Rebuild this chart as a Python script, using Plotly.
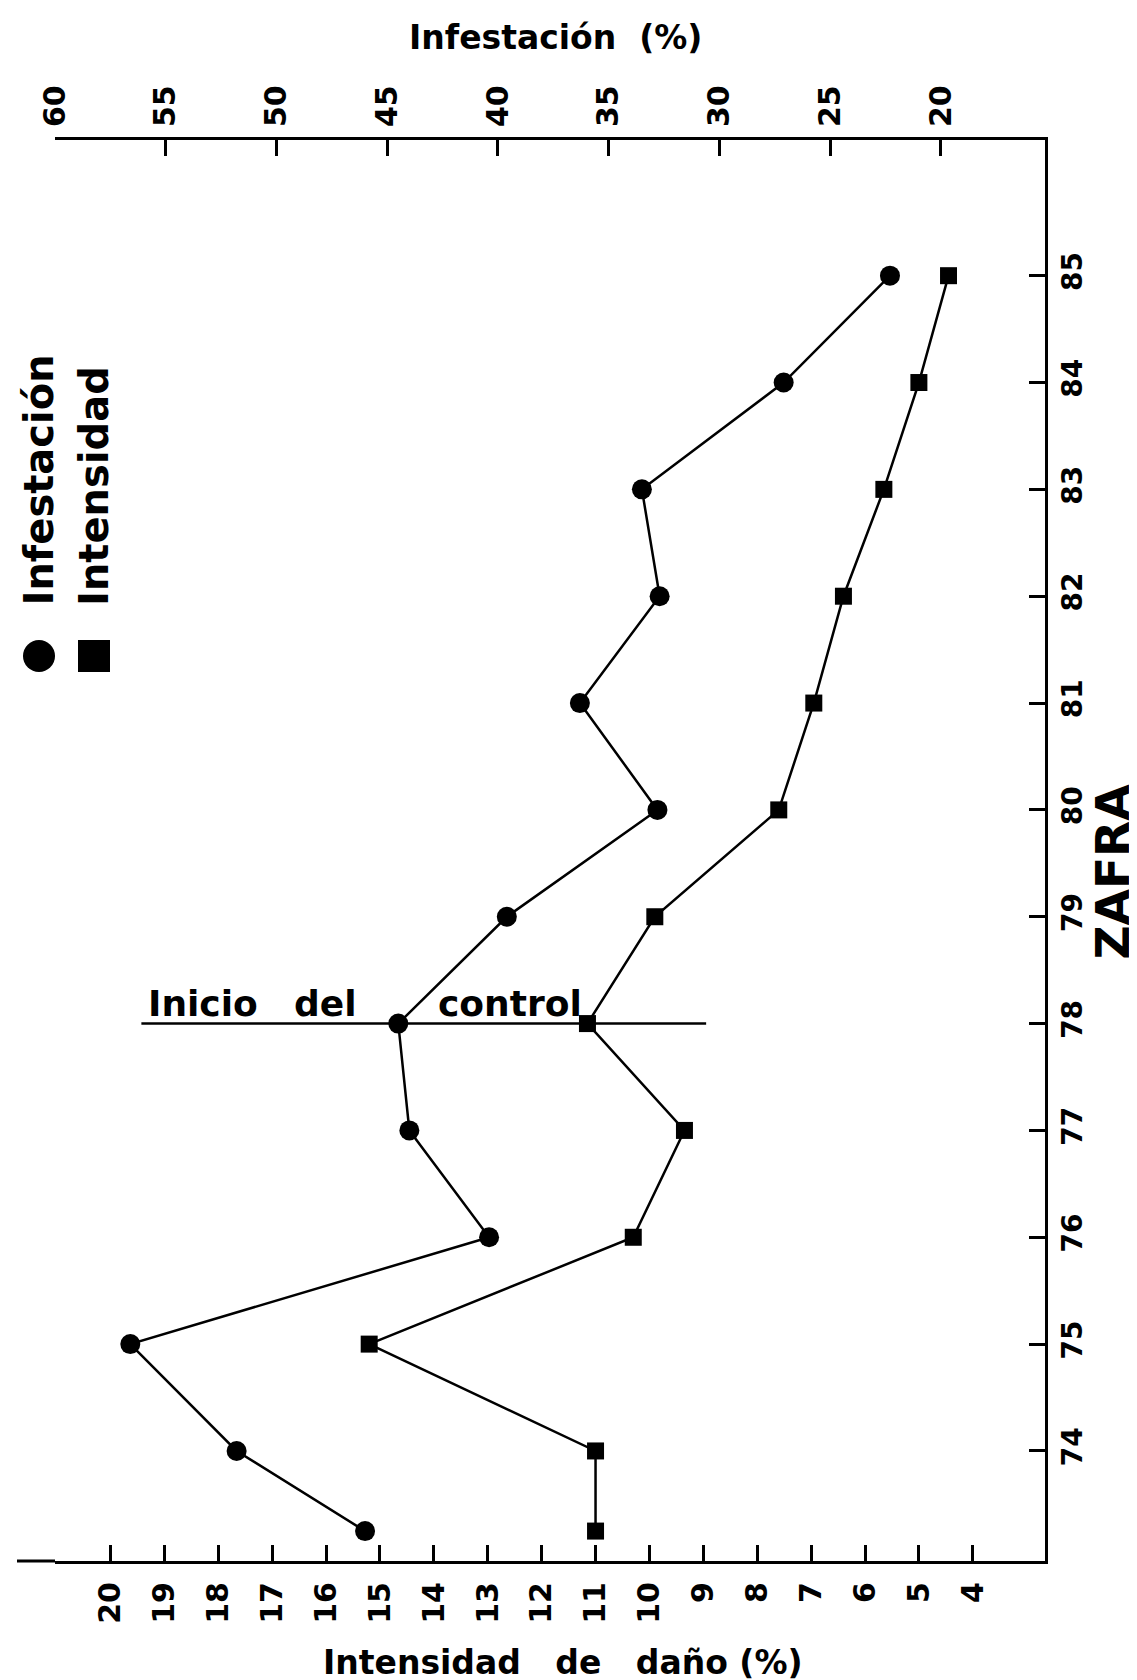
import plotly.graph_objects as go

# ---- data ----
zafra = [73.25, 74, 75, 76, 77, 78, 79, 80, 81, 82, 83, 84, 85]
infestacion = [46.0, 51.8, 56.6, 40.4, 44.0, 44.5, 39.6, 32.8, 36.3, 32.7, 33.5, 27.1, 22.3]
intensidad = [11.0, 11.0, 15.2, 10.3, 9.35, 11.15, 9.9, 7.6, 6.95, 6.4, 5.65, 5.0, 4.45]

year_ticks = list(range(74, 86))
infest_ticks = [60, 55, 50, 45, 40, 35, 30, 25, 20]
intens_ticks = list(range(20, 3, -1))

control_year = 78
control_span = [56.1, 30.6]          # in Infestación units
control_words = ["Inicio", "del", "control"]
control_word_x = [55.9, 49.3, 42.8]  # in Infestación units

FONT = "DejaVu Sans, Liberation Sans, sans-serif"
BLACK = "#000000"

fig = go.Figure()

fig.add_trace(go.Scatter(
    x=infestacion, y=zafra, xaxis="x2", yaxis="y",
    mode="lines+markers", name="Infestación",
    line=dict(color=BLACK, width=2.5),
    marker=dict(symbol="circle", size=20, color=BLACK),
    showlegend=False,
))
fig.add_trace(go.Scatter(
    x=intensidad, y=zafra, xaxis="x", yaxis="y",
    mode="lines+markers", name="Intensidad",
    line=dict(color=BLACK, width=2.5),
    marker=dict(symbol="square", size=17, color=BLACK),
    showlegend=False,
))

axis_common = dict(
    showgrid=False, zeroline=False, showline=True, linewidth=3, linecolor=BLACK,
    ticks="inside", ticklen=16, tickwidth=2.5, tickcolor=BLACK,
    tickangle=-90, tickfont=dict(family=FONT, size=30, color=BLACK, weight="bold"),
    automargin=False,
)

L, R, T, B = 47, 100, 132, 127
W, H = 1137, 1680
pw, ph = W - L - R, H - T - B


def px(xp):
    return (xp - L) / pw


def py(yp):
    return (H - B - yp) / ph


y_axis = dict(axis_common)
y_axis["tickfont"] = dict(family=FONT, size=28, color=BLACK, weight="bold")

fig.update_layout(
    width=W, height=H,
    margin=dict(l=L, r=R, t=T, b=B, pad=0),
    paper_bgcolor="white", plot_bgcolor="white",
    xaxis=dict(range=[21.03, 2.66], tickvals=intens_ticks,
               ticktext=[str(v) for v in intens_ticks],
               anchor="y", side="bottom", ticklabelstandoff=6, **axis_common),
    xaxis2=dict(range=[60.0, 15.3], tickvals=infest_ticks,
                ticktext=[str(v) for v in infest_ticks],
                overlaying="x", anchor="y", side="top", ticklabelstandoff=4, **axis_common),
    yaxis=dict(range=[72.97, 86.27], tickvals=year_ticks,
               ticktext=[str(v) for v in year_ticks],
               side="right", anchor="x", ticklabelstandoff=0, **y_axis),
)

shapes = [
    # "Inicio del control" line
    dict(type="line", xref="x2", yref="y", x0=control_span[0], x1=control_span[1],
         y0=control_year, y1=control_year, line=dict(color=BLACK, width=2.5)),
    # extension of bottom axis line to the left
    dict(type="line", xref="paper", yref="paper", x0=px(9), x1=0, y0=0, y1=0,
         line=dict(color=BLACK, width=3)),
    # legend symbols
    dict(type="circle", xref="paper", yref="paper", xsizemode="pixel", ysizemode="pixel",
         xanchor=px(31), yanchor=py(648), x0=-16, x1=16, y0=-16, y1=16,
         fillcolor=BLACK, line=dict(width=0)),
    dict(type="rect", xref="paper", yref="paper", xsizemode="pixel", ysizemode="pixel",
         xanchor=px(86), yanchor=py(648), x0=-16, x1=16, y0=-16, y1=16,
         fillcolor=BLACK, line=dict(width=0)),
]
fig.update_layout(shapes=shapes)

annotations = [
    dict(text="Infestación&nbsp; (%)", xref="paper", yref="paper", x=px(547), y=py(29),
         xanchor="center", yanchor="middle", showarrow=False,
         font=dict(family=FONT, size=33, color=BLACK, weight="bold")),
    dict(text="Intensidad&nbsp;&nbsp; de&nbsp;&nbsp; daño (%)", xref="paper", yref="paper",
         x=px(555), y=py(1654),
         xanchor="center", yanchor="middle", showarrow=False,
         font=dict(family=FONT, size=33, color=BLACK, weight="bold")),
    dict(text="ZAFRA", xref="paper", yref="paper", x=px(1133), y=py(864),
         xanchor="right", yanchor="middle", textangle=-90, showarrow=False,
         font=dict(family=FONT, size=47, color=BLACK, weight="bold")),
    dict(text="Infestación", xref="paper", yref="paper", x=px(30), y=py(600),
         xanchor="center", yanchor="bottom", textangle=-90, showarrow=False,
         font=dict(family=FONT, size=40, color=BLACK, weight="bold")),
    dict(text="Intensidad", xref="paper", yref="paper", x=px(86), y=py(600),
         xanchor="center", yanchor="bottom", textangle=-90, showarrow=False,
         font=dict(family=FONT, size=40, color=BLACK, weight="bold")),
]
for word, xv in zip(control_words, control_word_x):
    annotations.append(dict(text=word, xref="x2", yref="y", x=xv, y=control_year,
                            xanchor="left", yanchor="bottom", yshift=-2, showarrow=False,
                            font=dict(family=FONT, size=36, color=BLACK, weight="bold")))
fig.update_layout(annotations=annotations)

fig.write_html("out.html")
